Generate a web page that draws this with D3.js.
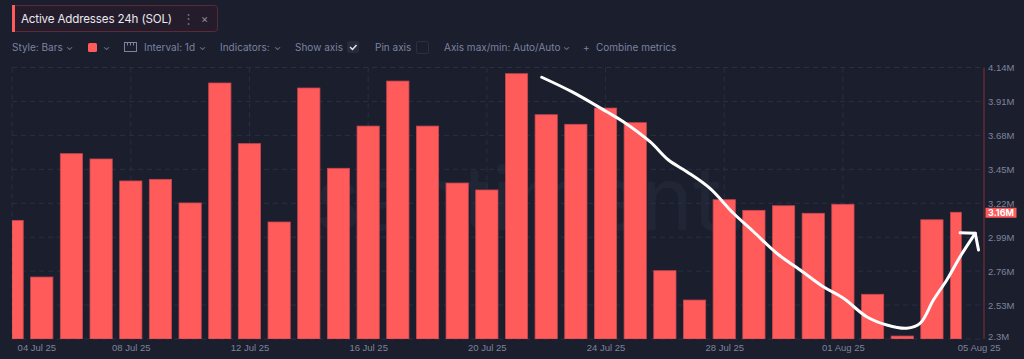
<!DOCTYPE html>
<html><head><meta charset="utf-8">
<script src="https://cdn.jsdelivr.net/npm/d3@7"></script>
<style>
html,body{margin:0;padding:0;background:#1b1e2d;}
svg{display:block;font-family:Inter,"Open Sans",sans-serif;}
</style></head><body>
<svg id="c" width="1024" height="359"></svg>
<script>
const dates = ["2025-07-04","2025-07-05","2025-07-06","2025-07-07","2025-07-08","2025-07-09","2025-07-10","2025-07-11","2025-07-12","2025-07-13","2025-07-14","2025-07-15","2025-07-16","2025-07-17","2025-07-18","2025-07-19","2025-07-20","2025-07-21","2025-07-22","2025-07-23","2025-07-24","2025-07-25","2025-07-26","2025-07-27","2025-07-28","2025-07-29","2025-07-30","2025-07-31","2025-08-01","2025-08-02","2025-08-03","2025-08-04","2025-08-05"];
const activeAddresses = [3.104,2.720,3.556,3.520,3.371,3.382,3.222,4.035,3.624,3.093,4.001,3.457,3.743,4.048,3.743,3.357,3.310,4.098,3.820,3.755,3.865,3.766,2.763,2.564,3.244,3.172,3.203,3.152,3.213,2.603,2.320,3.108,3.159];
const yTicks = [2.3,2.53,2.76,2.99,3.22,3.45,3.68,3.91,4.14];
const xTickDates = ["2025-07-04","2025-07-08","2025-07-12","2025-07-16","2025-07-20","2025-07-24","2025-07-28","2025-08-01","2025-08-05"];
const xTickLabels = ["04 Jul 25","08 Jul 25","12 Jul 25","16 Jul 25","20 Jul 25","24 Jul 25","28 Jul 25","01 Aug 25","05 Aug 25"];
const lastValueLabel = "3.16M";
// hand-drawn annotation: [days after first date, value in M]
const trendDays = [17.85,18.86,20.04,20.60,21.50,22.12,22.74,23.52,24.31,24.99,25.77,26.56,27.34,28.02,28.80,29.48,30.15,30.60,31.05,31.50,31.95,32.46];
const trendVals = [4.074,3.976,3.840,3.773,3.637,3.513,3.434,3.321,3.152,3.027,2.881,2.768,2.654,2.576,2.451,2.395,2.373,2.406,2.564,2.700,2.858,3.016];
const arrowHeadDays = [31.95,32.46,32.57];
const arrowHeadVals = [3.020,3.016,2.903];

const svg = d3.select("#c");
const parse = d3.utcParse("%Y-%m-%d");
const D = dates.map(parse);
const pLeft = 12.1, pRight = 961.6, axisX = 984, pTop = 67.5, pBottom = 339;
const x = d3.scaleUtc().domain([D[0], D[D.length-1]]).range([pLeft, pRight]);
const y = d3.scaleLinear().domain([2.3, 4.14]).range([pBottom, pTop]);
const day = 86400000;
const step = x(new Date(D[0].getTime()+day)) - x(D[0]);
const bw = step*0.75;

// watermark
svg.append("text").attr("x",531).attr("y",230).attr("text-anchor","middle")
  .attr("font-size",88).attr("font-weight",400).attr("fill","#212637").text("santiment.");

// grid
const grid = svg.append("g");
yTicks.forEach(t=>{
  grid.append("line").attr("x1",pLeft).attr("x2",axisX).attr("y1",y(t)).attr("y2",y(t))
   .attr("stroke","#2a2f42").attr("stroke-dasharray","5,4");
});
xTickDates.slice(0,-1).forEach(s=>{
  const xx = x(parse(s));
  grid.append("line").attr("x1",xx).attr("x2",xx).attr("y1",pTop).attr("y2",pBottom)
   .attr("stroke","#2a2f42").attr("stroke-dasharray","5,4");
});

// bars
svg.append("clipPath").attr("id","clip").append("rect")
  .attr("x",pLeft).attr("y",0).attr("width",pRight-pLeft).attr("height",pBottom);
svg.append("g").attr("clip-path","url(#clip)").selectAll("rect").data(activeAddresses).join("rect")
  .attr("x",(d,i)=>x(D[i])-bw/2).attr("width",bw)
  .attr("y",d=>y(d)).attr("height",d=>pBottom-y(d))
  .attr("fill","#ff5b5b").attr("stroke","#c7464f").attr("stroke-width",0.8);

// right axis
svg.append("line").attr("x1",axisX).attr("x2",axisX).attr("y1",pTop).attr("y2",pBottom)
  .attr("stroke","#7a2a36").attr("stroke-width",1.2);
const ya = d3.axisRight(y).tickValues(yTicks).tickSize(0).tickPadding(4).tickFormat(d=>d3.format(".2~f")(d)+"M");
const yg = svg.append("g").attr("transform",`translate(${axisX},0)`).call(ya);
yg.select(".domain").remove();
yg.selectAll("text").attr("fill","#7d849b").attr("font-size",9.5);
yg.selectAll(".tick").filter((d,i)=>i===0).select("text").attr("dy","0.1em");

// last value badge
const lv = activeAddresses[activeAddresses.length-1];
svg.append("rect").attr("x",985.5).attr("y",y(lv)-4.5).attr("width",31).attr("height",10).attr("fill","#ff5b5b");
svg.append("text").attr("x",1001).attr("y",y(lv)+0.5).attr("dy","0.35em").attr("text-anchor","middle")
  .attr("font-size",9).attr("font-weight",700).attr("fill","#fff").text(lastValueLabel);

// x axis labels
const xa = d3.axisBottom(x).tickValues(xTickDates.map(parse)).tickSize(0).tickPadding(5)
  .tickFormat((d,i)=>xTickLabels[i]);
const xg = svg.append("g").attr("transform",`translate(0,${pBottom})`).call(xa);
xg.select(".domain").remove();
xg.selectAll("text").attr("fill","#7d849b").attr("font-size",9.5);
xg.selectAll(".tick").filter((d,i)=>i===0).select("text").attr("text-anchor","start").attr("x",5);
xg.selectAll(".tick").filter((d,i)=>i===xTickDates.length-1).select("text").attr("x",17);

// annotation
const toPt = (dd,v)=>[x(new Date(D[0].getTime()+dd*day)), y(v)];
const line = d3.line().curve(d3.curveCatmullRom.alpha(0.5));
svg.append("path").attr("d",line(trendDays.map((d,i)=>toPt(d,trendVals[i]))))
  .attr("fill","none").attr("stroke","#ffffff").attr("stroke-width",3).attr("stroke-linecap","round").attr("stroke-linejoin","round");
svg.append("path").attr("d",d3.line()(arrowHeadDays.map((d,i)=>toPt(d,arrowHeadVals[i]))))
  .attr("fill","none").attr("stroke","#ffffff").attr("stroke-width",3).attr("stroke-linecap","round").attr("stroke-linejoin","round");

// title chip
const hdr = svg.append("g");
hdr.append("rect").attr("x",12.5).attr("y",5.5).attr("width",205).attr("height",26).attr("rx",3)
  .attr("fill","#241c2b").attr("stroke","#5b2a36");
hdr.append("rect").attr("x",12).attr("y",5).attr("width",3).attr("height",27).attr("fill","#ff5b5b");
hdr.append("text").attr("x",21).attr("y",22.5).attr("font-size",11.6).attr("letter-spacing",-0.15).attr("fill","#e8e9ef").text("Active Addresses 24h (SOL)");
hdr.append("text").attr("x",182).attr("y",23).attr("font-size",13).attr("fill","#6c7189").text("⋮");
hdr.append("text").attr("x",201).attr("y",22.5).attr("font-size",11).attr("fill","#8a8fa3").text("×");

// toolbar
const tb = svg.append("g").attr("font-size",10).attr("fill","#7a83a0");
const ty = 51;
tb.append("text").attr("x",12).attr("y",ty).text("Style: Bars");
tb.append("text").attr("x",66).attr("y",ty-1).attr("font-size",9).text("⌄");
tb.append("rect").attr("x",88).attr("y",43).attr("width",9).attr("height",9).attr("rx",1.5).attr("fill","#ff5b5b");
tb.append("text").attr("x",103).attr("y",ty-1).attr("font-size",9).text("⌄");
tb.append("rect").attr("x",124.5).attr("y",42.5).attr("width",12).attr("height",9).attr("fill","none").attr("stroke","#7a83a0");
tb.append("path").attr("d","M127.5 42.5v3M130.5 42.5v3M133.5 42.5v3").attr("stroke","#7a83a0");
tb.append("text").attr("x",144).attr("y",ty).text("Interval: 1d");
tb.append("text").attr("x",199).attr("y",ty-1).attr("font-size",9).text("⌄");
tb.append("text").attr("x",220).attr("y",ty).text("Indicators:");
tb.append("text").attr("x",274).attr("y",ty-1).attr("font-size",9).text("⌄");
tb.append("text").attr("x",295).attr("y",ty).text("Show axis");
tb.append("rect").attr("x",347).attr("y",41).attr("width",12).attr("height",12).attr("rx",2).attr("fill","#262b3c");
tb.append("path").attr("d","M350 47l2.5 2.5 4-4.5").attr("fill","none").attr("stroke","#e0e3ec").attr("stroke-width",1.5);
tb.append("text").attr("x",375).attr("y",ty).text("Pin axis");
tb.append("rect").attr("x",416.5).attr("y",41.5).attr("width",12).attr("height",12).attr("rx",2).attr("fill","none").attr("stroke","#2c3142");
tb.append("text").attr("x",444).attr("y",ty).text("Axis max/min: Auto/Auto");
tb.append("text").attr("x",563).attr("y",ty-1).attr("font-size",9).text("⌄");
tb.append("text").attr("x",583).attr("y",ty).text("+");
tb.append("text").attr("x",596).attr("y",ty).text("Combine metrics");
</script>
</body></html>
